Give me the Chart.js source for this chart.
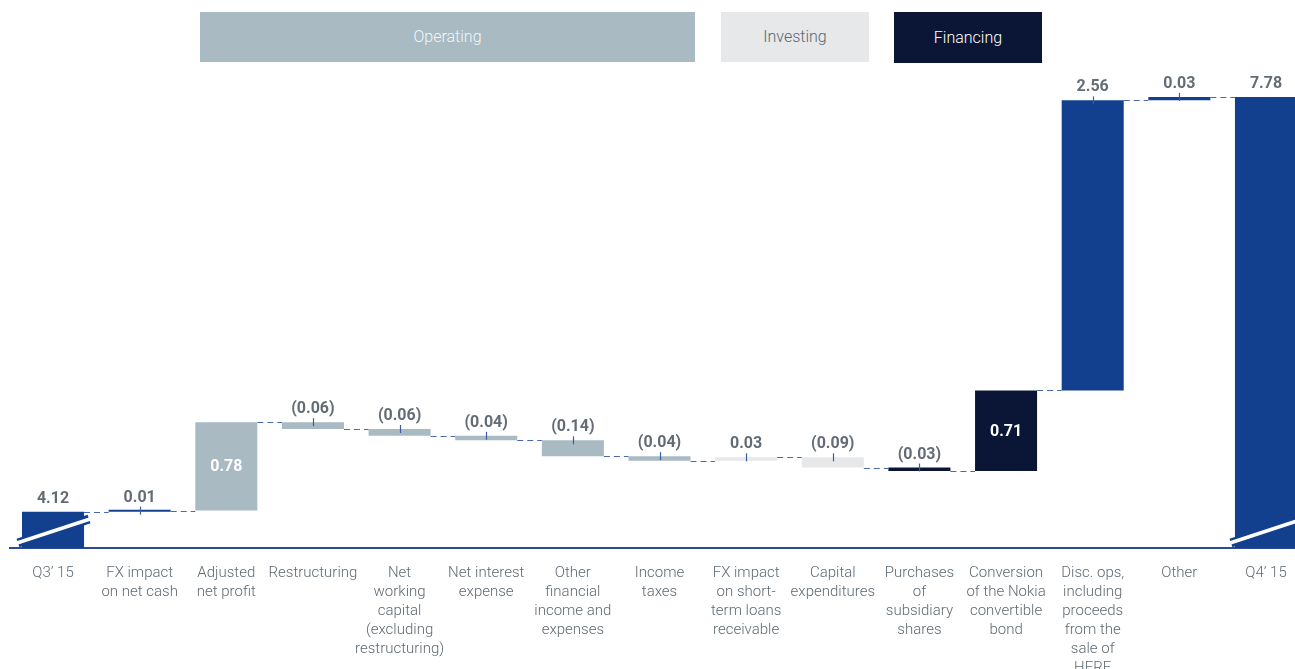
<!DOCTYPE html>
<html><head><meta charset="utf-8">
<script src="https://cdn.jsdelivr.net/npm/chart.js@4.4.1/dist/chart.umd.min.js"></script>
<style>
html,body{margin:0;padding:0;background:#fff;overflow:hidden;width:1295px;height:669px;}
#wrap{position:absolute;left:0;top:0;width:1312px;height:669px;}
.leg{position:absolute;top:12px;height:50px;display:flex;align-items:center;justify-content:center;font-family:Roboto,sans-serif;font-weight:300;font-size:16px;}
</style></head><body>
<div id="wrap"><canvas id="c"></canvas></div>
<div class="leg" style="left:200px;width:495px;background:#a9bac3;color:#f3f6f8;padding-bottom:2px;box-sizing:border-box">Operating</div>
<div class="leg" style="left:721px;width:148px;background:#e6e8ea;color:#5b6670;padding-bottom:2px;box-sizing:border-box">Investing</div>
<div class="leg" style="left:894px;width:148px;height:51px;background:#0b1637;color:#ffffff">Financing</div>
<script>
// ---- data ----
const categories = [
  ["Q3\u2019 15"],
  ["FX impact","on net cash"],
  ["Adjusted","net profit"],
  ["Restructuring"],
  ["Net","working","capital","(excluding","restructuring)"],
  ["Net interest","expense"],
  ["Other","financial","income and","expenses"],
  ["Income","taxes"],
  ["FX impact","on short-","term loans","receivable"],
  ["Capital","expenditures"],
  ["Purchases","of","subsidiary","shares"],
  ["Conversion","of the Nokia","convertible","bond"],
  ["Disc. ops,","including","proceeds","from the","sale of","HERE"],
  ["Other"],
  ["Q4\u2019 15"]
];
const startValue = 4.12;
const changes = [0.01, 0.78, -0.06, -0.06, -0.04, -0.14, -0.04, 0.03, -0.09, -0.03, 0.71, 2.56, 0.03];
const endValue = 7.78;
const axisFloor = 3.8; // broken axis: visible part starts here
const axisCeil = 8.0;
const activity = ["total","fx","operating","operating","operating","operating","operating","operating","investing","investing","financing","financing","other","other","total"];

// ---- styles ----
const colorOf = {total:"#12408f", fx:"#12408f", other:"#12408f", operating:"#a9bac3", investing:"#e6e8ea", financing:"#0b1637"};
const insideLabel = [2, 11];

// ---- build floating bars ----
const ranges = [];
const displayValues = [];
const levels = []; // cumulative level after each bar
ranges.push([axisFloor, startValue]); displayValues.push(startValue);
let cum = startValue; levels.push(cum);
changes.forEach(d => {
  const next = Math.round((cum + d) * 100) / 100;
  ranges.push([Math.min(cum, next), Math.max(cum, next)]);
  displayValues.push(d);
  cum = next; levels.push(cum);
});
ranges.push([axisFloor, endValue]); displayValues.push(endValue); levels.push(endValue);

const fmt = v => v < 0 ? "(" + Math.abs(v).toFixed(2) + ")" : v.toFixed(2);

const overlay = {
  id: "overlay",
  afterDatasetsDraw(chart) {
    const ctx = chart.ctx;
    const meta = chart.getDatasetMeta(0);
    const ys = chart.scales.y;
    const n = meta.data.length;
    const geo = meta.data.map((el, i) => {
      const p = el.getProps(["x", "width"], true);
      const top = ys.getPixelForValue(ranges[i][1]);
      const bot = ys.getPixelForValue(ranges[i][0]);
      return {x: p.x, w: p.width, top, bot};
    });
    ctx.save();
    // connectors
    ctx.strokeStyle = "#4a69ad"; ctx.lineWidth = 1; ctx.setLineDash([6, 4]);
    for (let i = 0; i < n - 1; i++) {
      const y = Math.round(ys.getPixelForValue(levels[i])) + 0.5;
      ctx.beginPath();
      ctx.moveTo(geo[i].x + geo[i].w / 2, y);
      ctx.lineTo(geo[i + 1].x - geo[i + 1].w / 2, y);
      ctx.stroke();
    }
    ctx.setLineDash([]);
    // break marks on totals
    [0, n - 1].forEach(i => {
      const g = geo[i];
      const x1 = g.x - g.w / 2 - 4, x2 = g.x + g.w / 2 + 5;
      const y1 = g.bot - 5, y2 = g.bot - 29;
      ctx.lineCap = "butt";
      ctx.strokeStyle = colorOf.total; ctx.lineWidth = 9;
      ctx.beginPath(); ctx.moveTo(x1, y1); ctx.lineTo(x2, y2); ctx.stroke();
      ctx.strokeStyle = "#ffffff"; ctx.lineWidth = 3.5;
      ctx.beginPath(); ctx.moveTo(x1 - 1, y1); ctx.lineTo(x2 + 1, y2); ctx.stroke();
    });
    // value labels and ticks
    ctx.font = "700 16px Roboto, sans-serif";
    ctx.textAlign = "center"; ctx.textBaseline = "middle";
    for (let i = 0; i < n; i++) {
      const g = geo[i];
      const txt = fmt(displayValues[i]);
      if (insideLabel.includes(i)) {
        ctx.fillStyle = "#ffffff";
        ctx.fillText(txt, g.x, (g.top + g.bot) / 2 + 1);
      } else {
        ctx.fillStyle = "#636c75";
        ctx.fillText(txt, g.x, g.top - 13);
        if (i !== 0 && i !== n - 1) {
          ctx.strokeStyle = "#3b5ca2"; ctx.lineWidth = 1.2;
          ctx.beginPath();
          ctx.moveTo(Math.round(g.x) + 0.5, g.top - 4);
          ctx.lineTo(Math.round(g.x) + 0.5, g.top + 4);
          ctx.stroke();
        }
      }
    }
    ctx.restore();
  }
};

new Chart(document.getElementById("c"), {
  type: "bar",
  data: {
    labels: categories,
    datasets: [{
      data: ranges,
      backgroundColor: activity.map(a => colorOf[a]),
      borderWidth: 0,
      borderSkipped: false,
      categoryPercentage: 1,
      barPercentage: 0.716,
      minBarLength: 2
    }]
  },
  options: {
    responsive: true,
    maintainAspectRatio: false,
    animation: false,
    layout: {padding: {left: 9.7, right: 2.7, top: 72, bottom: 0}},
    plugins: {legend: {display: false}, tooltip: {enabled: false}},
    scales: {
      x: {
        grid: {display: false, drawTicks: false},
        border: {display: true, color: "#2b4c94", width: 2},
        ticks: {
          autoSkip: false, maxRotation: 0, minRotation: 0, padding: 16,
          color: "#5f6a73",
          font: {family: "Roboto, sans-serif", size: 15, weight: 300, lineHeight: 19 / 15}
        },
        afterFit(scale) { scale.height = 121; }
      },
      y: {display: false, min: axisFloor, max: axisCeil}
    }
  },
  plugins: [overlay]
});
</script>
</body></html>
